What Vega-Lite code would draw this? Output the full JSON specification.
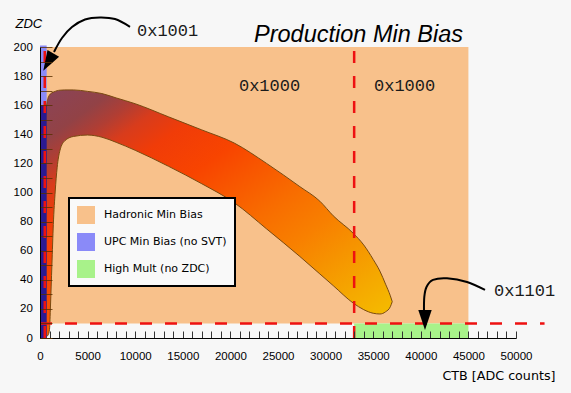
{
  "$schema": "https://vega.github.io/schema/vega-lite/v6.json",
  "width": 476,
  "height": 291,
  "autosize": {"type": "none"},
  "padding": {"left": 40, "top": 47, "right": 55, "bottom": 55},
  "background": "#f7f7f7",
  "config": {"view": {"stroke": null}},
  "title": {
    "text": "Production Min Bias",
    "font": "Liberation Sans",
    "fontSize": 23.5,
    "fontStyle": "italic",
    "fontWeight": "normal",
    "color": "#000000",
    "anchor": "end",
    "frame": "group",
    "dx": -53,
    "offset": -52.5,
    "baseline": "alphabetic"
  },
  "datasets": {
    "regions": [
      {"region": "Hadronic Min Bias", "x": 0, "x2": 45000, "y": 10, "y2": 200},
      {"region": "High Mult (no ZDC)", "x": 33000, "x2": 45000, "y": 0, "y2": 10},
      {"region": "UPC Min Bias (no SVT)", "x": 0, "x2": 700, "y": 0, "y2": 201}
    ],
    "overlap": [
      {"x": 0, "x2": 700, "y": 0, "y2": 160}
    ],
    "blob": [
      {"x": 600, "y": 152, "y2": 0},
      {"x": 700, "y": 160, "y2": 1},
      {"x": 850, "y": 165, "y2": 2},
      {"x": 1000, "y": 167, "y2": 6},
      {"x": 1100, "y": 167.8, "y2": 22},
      {"x": 1250, "y": 168.5, "y2": 50},
      {"x": 1400, "y": 169, "y2": 78},
      {"x": 1600, "y": 169.5, "y2": 101},
      {"x": 1800, "y": 170, "y2": 117},
      {"x": 2100, "y": 170.3, "y2": 129},
      {"x": 2600, "y": 170.5, "y2": 135.5},
      {"x": 3500, "y": 170.5, "y2": 138.5},
      {"x": 5000, "y": 169.5, "y2": 139.5},
      {"x": 6500, "y": 168, "y2": 138},
      {"x": 8000, "y": 165, "y2": 134.5},
      {"x": 10000, "y": 161, "y2": 129},
      {"x": 13500, "y": 152, "y2": 118},
      {"x": 17000, "y": 143, "y2": 106},
      {"x": 20400, "y": 134, "y2": 93},
      {"x": 23800, "y": 120, "y2": 75},
      {"x": 27300, "y": 104, "y2": 56},
      {"x": 29400, "y": 94, "y2": 44},
      {"x": 30800, "y": 84, "y2": 36},
      {"x": 32900, "y": 72, "y2": 24},
      {"x": 34000, "y": 64, "y2": 19.5},
      {"x": 35000, "y": 54, "y2": 17},
      {"x": 35700, "y": 46, "y2": 16.5},
      {"x": 36300, "y": 37, "y2": 18},
      {"x": 36800, "y": 29, "y2": 21.5},
      {"x": 37000, "y": 25, "y2": 25}
    ],
    "cuts": [
      {"x": 500, "x2": 500, "y": 0, "y2": 204},
      {"x": 33000, "x2": 33000, "y": 0, "y2": 200},
      {"x": 0, "x2": 53000, "y": 10, "y2": 10}
    ],
    "arrows": [
      {"arrow": "a", "i": 1, "x": 9454, "y": 213.9},
      {"arrow": "a", "i": 2, "x": 7878, "y": 219.2},
      {"arrow": "a", "i": 3, "x": 6303, "y": 220.3},
      {"arrow": "a", "i": 4, "x": 4727, "y": 218.9},
      {"arrow": "a", "i": 5, "x": 3361, "y": 213.7},
      {"arrow": "a", "i": 6, "x": 2311, "y": 206.2},
      {"arrow": "a", "i": 7, "x": 1471, "y": 196.6},
      {"arrow": "b", "i": 1, "x": 46744, "y": 33.0},
      {"arrow": "b", "i": 2, "x": 44853, "y": 38.5},
      {"arrow": "b", "i": 3, "x": 42752, "y": 41.0},
      {"arrow": "b", "i": 4, "x": 41282, "y": 39.9},
      {"arrow": "b", "i": 5, "x": 40599, "y": 35.1},
      {"arrow": "b", "i": 6, "x": 40368, "y": 28.2},
      {"arrow": "b", "i": 7, "x": 40336, "y": 17.9}
    ],
    "headA": [{"x": 872, "y": 189.7}],
    "headB": [{"x": 40441, "y": 12.4}],
    "labels": [
      {"label": "0x1001", "x": 10190, "y": 207.6},
      {"label": "0x1000", "x": 20900, "y": 170},
      {"label": "0x1000", "x": 35084, "y": 170},
      {"label": "0x1101", "x": 47690, "y": 29.1}
    ]
  },
  "encoding": {
    "x": {
      "field": "x",
      "type": "quantitative",
      "scale": {"domain": [0, 50000], "nice": false, "zero": false},
      "axis": {
        "values": [0,1000,2000,3000,4000,5000,6000,7000,8000,9000,10000,11000,12000,13000,14000,15000,16000,17000,18000,19000,20000,21000,22000,23000,24000,25000,26000,27000,28000,29000,30000,31000,32000,33000,34000,35000,36000,37000,38000,39000,40000,41000,42000,43000,44000,45000,46000,47000,48000,49000,50000],
        "format": "d",
        "labelExpr": "datum.value % 5000 === 0 ? datum.label : ''",
        "grid": false,
        "tickSize": -7,
        "tickColor": "#333333",
        "tickWidth": 1,
        "labelPadding": 28,
        "labelBaseline": "alphabetic",
        "labelFont": "Liberation Sans",
        "labelFontSize": 11.5,
        "labelColor": "#000000",
        "labelOverlap": false,
        "labelFlush": false,
        "domainColor": "#000000",
        "domainWidth": 1,
        "title": "CTB [ADC counts]",
        "titleFont": "DejaVu Sans",
        "titleFontSize": 12.7,
        "titleFontWeight": "normal",
        "titleColor": "#000000",
        "titleX": 515,
        "titleY": 41,
        "titleAlign": "right",
        "titleBaseline": "alphabetic",
        "zindex": 1
      }
    },
    "y": {
      "field": "y",
      "type": "quantitative",
      "scale": {"domain": [0, 200], "nice": false, "zero": false},
      "axis": {
        "values": [0,10,20,30,40,50,60,70,80,90,100,110,120,130,140,150,160,170,180,190,200],
        "format": "d",
        "labelExpr": "datum.value % 20 === 0 ? datum.label : ''",
        "grid": false,
        "tickSize": -12,
        "tickColor": "#5a3000",
        "tickOpacity": 0.8,
        "tickWidth": 1,
        "labelPadding": 19.7,
        "labelFont": "Liberation Sans",
        "labelFontSize": 11.5,
        "labelColor": "#000000",
        "labelOverlap": false,
        "labelFlush": false,
        "domainColor": "#000000",
        "domainWidth": 1,
        "title": "ZDC",
        "titleFont": "Liberation Sans",
        "titleFontSize": 13,
        "titleFontStyle": "italic",
        "titleFontWeight": "normal",
        "titleColor": "#000000",
        "titleAngle": 0,
        "titleX": -25,
        "titleY": -20,
        "titleAlign": "left",
        "titleBaseline": "alphabetic",
        "zindex": 1
      }
    }
  },
  "layer": [
    {
      "data": {"name": "regions"},
      "mark": {"type": "rect"},
      "encoding": {
        "x2": {"field": "x2"},
        "y2": {"field": "y2"},
        "color": {
          "field": "region",
          "type": "nominal",
          "scale": {
            "domain": ["Hadronic Min Bias", "UPC Min Bias (no SVT)", "High Mult (no ZDC)"],
            "range": ["#f8c18b", "#8a8af8", "#a8f28a"]
          },
          "legend": {
            "orient": "none",
            "legendX": 29,
            "legendY": 151,
            "title": null,
            "direction": "vertical",
            "symbolType": "square",
            "symbolSize": 324,
            "symbolStrokeWidth": 0,
            "symbolOpacity": 1,
            "labelFont": "DejaVu Sans",
            "labelFontSize": 11,
            "labelColor": "#000000",
            "labelOffset": 9,
            "labelLimit": 300,
            "rowPadding": 9,
            "padding": 8,
            "fillColor": "#f9f9f9",
            "strokeColor": "#000000",
            "encode": {"legend": {"update": {"strokeWidth": {"value": 2}}}}
          }
        }
      }
    },
    {
      "data": {"name": "blob"},
      "mark": {
        "type": "area",
        "interpolate": "monotone",
        "stroke": "#7a4a10",
        "strokeWidth": 1,
        "fill": {
          "gradient": "linear",
          "x1": 0, "y1": 0, "x2": 1, "y2": 1,
          "stops": [
            {"offset": 0, "color": "#8a4458"},
            {"offset": 0.1, "color": "#924246"},
            {"offset": 0.15, "color": "#b03e34"},
            {"offset": 0.2, "color": "#d83c1c"},
            {"offset": 0.27, "color": "#f03c08"},
            {"offset": 0.38, "color": "#f84400"},
            {"offset": 0.46, "color": "#f85600"},
            {"offset": 0.56, "color": "#f86c00"},
            {"offset": 0.67, "color": "#f88000"},
            {"offset": 0.75, "color": "#f69200"},
            {"offset": 0.85, "color": "#f5a800"},
            {"offset": 0.95, "color": "#f5bc00"},
            {"offset": 1, "color": "#f5c000"}
          ]
        }
      },
      "encoding": {"y2": {"field": "y2"}}
    },
    {
      "data": {"name": "overlap"},
      "mark": {"type": "rect", "color": "#2a1a92"},
      "encoding": {"x2": {"field": "x2"}, "y2": {"field": "y2"}}
    },
    {
      "data": {"name": "cuts"},
      "mark": {"type": "rule", "color": "#ee1111", "strokeWidth": 2.5, "strokeDash": [12, 13]},
      "encoding": {"x2": {"field": "x2"}, "y2": {"field": "y2"}}
    },
    {
      "data": {"name": "arrows"},
      "mark": {"type": "line", "color": "#000000", "strokeWidth": 2, "interpolate": "cardinal"},
      "encoding": {
        "detail": {"field": "arrow"},
        "order": {"field": "i", "type": "quantitative"}
      }
    },
    {
      "data": {"name": "headA"},
      "mark": {"type": "point", "shape": "M-0.67,-1L0.67,-1L0,1Z", "size": 400, "angle": 30, "filled": true, "color": "#000000", "opacity": 1, "strokeWidth": 0}
    },
    {
      "data": {"name": "headB"},
      "mark": {"type": "point", "shape": "M-0.67,-1L0.67,-1L0,1Z", "size": 400, "angle": 0, "filled": true, "color": "#000000", "opacity": 1, "strokeWidth": 0}
    },
    {
      "data": {"name": "labels"},
      "mark": {"type": "text", "font": "Liberation Mono", "fontSize": 17, "color": "#1a1a1a", "align": "left", "baseline": "alphabetic"},
      "encoding": {"text": {"field": "label"}}
    }
  ]
}
